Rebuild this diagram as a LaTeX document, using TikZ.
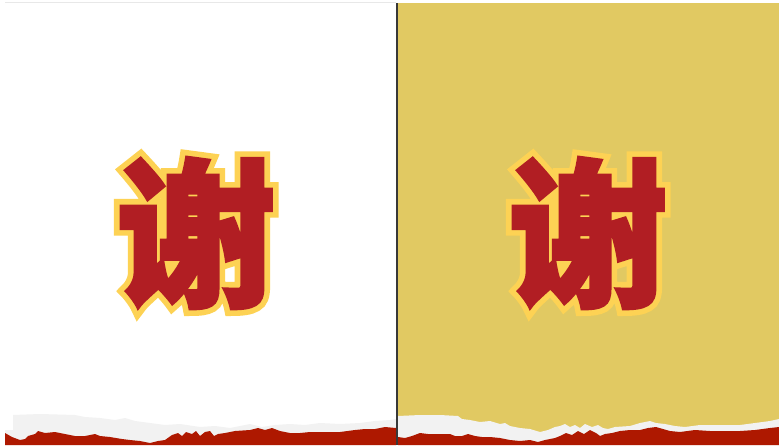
\documentclass[tikz,border=0pt]{standalone}
\usepackage{fontspec}
\newfontfamily\cjkfill{Noto Sans CJK SC}[BoldFeatures={FakeBold=2}]
\newfontfamily\cjkedge{Noto Sans CJK SC}[BoldFeatures={FakeBold=9}]
\definecolor{charred}{HTML}{B11E23}
\definecolor{charyel}{HTML}{FDD254}
\definecolor{panelyel}{HTML}{E1C962}
\definecolor{tornred}{HTML}{AE1800}
\definecolor{torngray}{HTML}{F2F2F2}
\definecolor{divider}{HTML}{383838}
\tikzset{
  edgechar/.style={inner sep=0pt, text=charyel, font=\cjkedge\bfseries\fontsize{160}{160}\selectfont},
  fillchar/.style={inner sep=0pt, text=charred, font=\cjkfill\bfseries\fontsize{160}{160}\selectfont},
}
\begin{document}
\begin{tikzpicture}[x=1pt,y=-1pt]
\useasboundingbox (0,0) rectangle (779,447);
\fill[white] (0,0) rectangle (779,447);
% top hairline
\draw[color=black!9, line width=1pt] (5,2) -- (396,2);
% right panel
\fill[panelyel] (398,3) rectangle (779,440);
% left torn paper
\fill[torngray] (13,415) -- (40,414) -- (75,415) -- (85,417) -- (100,418) -- (115,420) -- (125,418) -- (135,421) -- (150,423) -- (165,425) -- (180,424) -- (200,427) -- (215,426) -- (230,428) -- (250,424) -- (262,427) -- (275,425) -- (290,424) -- (305,425) -- (320,423) -- (340,424) -- (360,423) -- (375,421) -- (390,420) -- (396,419) -- (396,445) -- (5,445) -- (5,430) -- (13,430) -- cycle;
\fill[tornred] (5,433) -- (12,437) -- (20,440) -- (25,439) -- (28,436) -- (35,434)-- (38,431) -- (45,433) -- (55,432) -- (65,434) -- (75,436) -- (85,436) -- (95,434) -- (100,436) -- (110,437) -- (122,439) -- (130,440) -- (140,441) -- (150,443) -- (158,441) -- (165,440) -- (172,435) -- (178,433) -- (182,436) -- (186,432) -- (192,434) -- (196,431) -- (200,436) -- (205,432) -- (210,431) -- (214,436) -- (218,434) -- (225,433) -- (235,431) -- (250,430) -- (258,428) -- (265,430) -- (272,428) -- (280,431) -- (290,433) -- (300,433) -- (310,432) -- (320,432) -- (340,432) -- (355,430) -- (365,429) -- (375,429) -- (385,427) -- (396,428) -- (396,445) -- (5,445) -- cycle;
% right torn paper
\fill[torngray] (398,416) -- (420,415) -- (440,415) -- (458,416) -- (462,419) -- (470,420) -- (480,422) -- (490,421) -- (500,424) -- (505,423) -- (510,426) -- (520,428) -- (530,429) -- (540,432) -- (548,430) -- (555,427) -- (560,426) -- (565,424) -- (570,427) -- (575,425) -- (580,428) -- (585,424) -- (592,427) -- (598,425) -- (603,428) -- (608,429) -- (615,427) -- (630,426) -- (640,423) -- (650,421) -- (656,423) -- (665,424) -- (675,426) -- (685,427) -- (700,425) -- (720,425) -- (740,425) -- (755,423) -- (770,421) -- (779,419) -- (779,445) -- (398,445) -- cycle;
\fill[tornred] (398,437) -- (405,438) -- (412,436) -- (420,433) -- (428,434) -- (438,434) -- (450,434) -- (455,436) -- (462,436) -- (468,434) -- (475,436) -- (482,437) -- (490,437) -- (500,438) -- (510,440) -- (520,441) -- (530,440) -- (538,442) -- (545,440) -- (555,438) -- (560,436) -- (566,433) -- (572,435) -- (578,431) -- (584,434) -- (590,430) -- (596,433) -- (600,436) -- (605,434) -- (612,433) -- (620,431) -- (630,430) -- (640,430) -- (648,428) -- (656,427) -- (663,429) -- (670,431) -- (680,432) -- (695,430) -- (710,431) -- (725,431) -- (740,431) -- (755,430) -- (770,428) -- (779,427) -- (779,445) -- (398,445) -- cycle;
% divider
\draw[divider, line width=2pt] (396.5,3) -- (396.5,445);
% characters
\node[edgechar] (leftedge) at (196,233) {谢};
\node[fillchar] (leftchar) at (leftedge) {谢};
\node[edgechar] (rightedge) at (588,233) {谢};
\node[fillchar] (rightchar) at (rightedge) {谢};
\end{tikzpicture}
\end{document}
